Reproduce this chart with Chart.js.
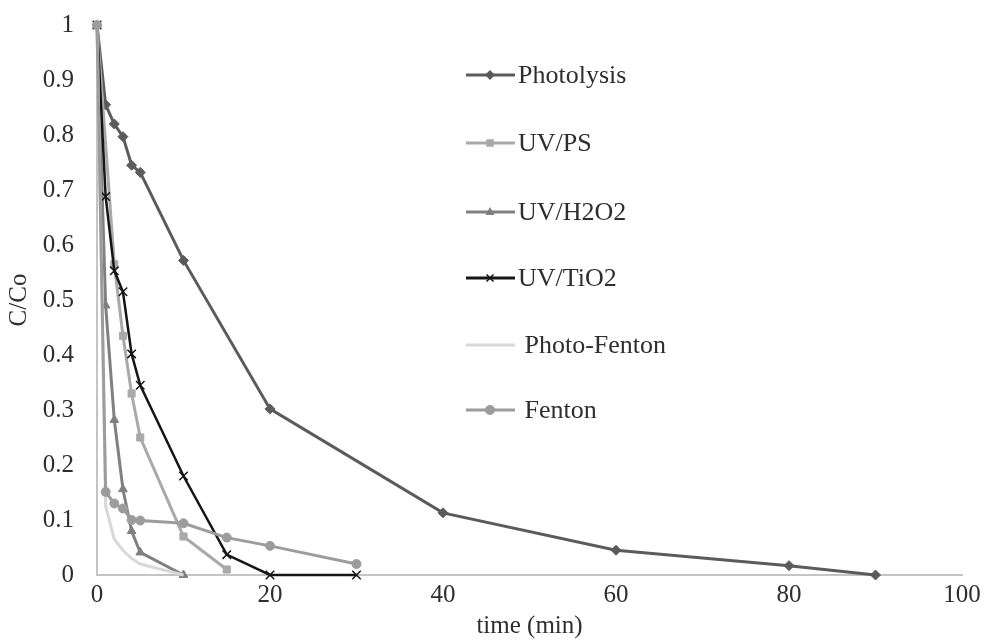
<!DOCTYPE html>
<html>
<head>
<meta charset="utf-8">
<script src="https://cdn.jsdelivr.net/npm/chart.js@4"></script>
<style>
  html, body { margin: 0; padding: 0; background: #fff; }
  #wrap { width: 986px; height: 641px; }
</style>
</head>
<body>
<div id="wrap"><canvas id="chart" width="986" height="641"></canvas></div>
<script>
// series: time (min) and C/Co
var seriesNames = ["Photolysis", "UV/PS", "UV/H2O2", "UV/TiO2", "Photo-Fenton", "Fenton"];

var photolysisTime = [0, 1, 2, 3, 4, 5, 10, 20, 40, 60, 80, 90];
var photolysisC = [1, 0.855, 0.82, 0.797, 0.745, 0.732, 0.572, 0.302, 0.113, 0.045, 0.017, 0];

var uvPsTime = [0, 2, 3, 4, 5, 10, 15];
var uvPsC = [1, 0.565, 0.435, 0.33, 0.25, 0.07, 0.01];

var uvH2o2Time = [0, 1, 2, 3, 4, 5, 10];
var uvH2o2C = [1, 0.49, 0.282, 0.156, 0.08, 0.041, 0];

var uvTio2Time = [0, 1, 2, 3, 4, 5, 10, 15, 20, 30];
var uvTio2C = [1, 0.688, 0.553, 0.515, 0.402, 0.345, 0.18, 0.037, 0, 0];

var photoFentonTime = [0, 1, 2, 3, 4, 5, 10];
var photoFentonC = [1, 0.125, 0.065, 0.045, 0.03, 0.02, 0];

var fentonTime = [0, 1, 2, 3, 4, 5, 10, 15, 20, 30];
var fentonC = [1, 0.151, 0.13, 0.121, 0.1, 0.099, 0.094, 0.068, 0.053, 0.02];

var xTickLabels = ["0", "20", "40", "60", "80", "100"];
var yTickLabels = ["0", "0.1", "0.2", "0.3", "0.4", "0.5", "0.6", "0.7", "0.8", "0.9", "1"];

var serif = "'Liberation Serif', 'Times New Roman', serif";
var textColor = "#2e2e2e";
var axisColor = "#c4c4c4";

function pairs(xs, ys){
    return xs.map(function(x, i){ return {x: x, y: ys[i]}; });
}

var styles = [
    {color: "#5b5b5b", point: "rectRot", radius: 5},
    {color: "#a9a9a9", point: "rect", radius: 5},
    {color: "#808080", point: "triangle", radius: 5},
    {color: "#151515", point: "crossRot", radius: 6},
    {color: "#d8d8d8", point: false, radius: 0},
    {color: "#9c9c9c", point: "circle", radius: 4.5}
];

var allData = [
    pairs(photolysisTime, photolysisC),
    pairs(uvPsTime, uvPsC),
    pairs(uvH2o2Time, uvH2o2C),
    pairs(uvTio2Time, uvTio2C),
    pairs(photoFentonTime, photoFentonC),
    pairs(fentonTime, fentonC)
];

var datasets = allData.map(function(d, i){
    var s = styles[i];
    return {
        label: seriesNames[i],
        data: d,
        borderColor: s.color,
        backgroundColor: s.color,
        borderWidth: i == 3 ? 2.5 : 3,
        pointStyle: s.point,
        pointRadius: s.radius,
        pointBorderWidth: i == 3 ? 1.5 : 1,
        tension: 0,
        clip: false,
        order: 6 - i
    };
});

// legend drawn inside the plot, like the original
var legendRows = [75, 143, 212, 278, 345, 410];
var legendText = ["Photolysis", "UV/PS", "UV/H2O2", "UV/TiO2", " Photo-Fenton", " Fenton"];

function drawMarker(ctx, style, x, y, r){
    ctx.beginPath();
    if (style == "rectRot"){
        ctx.moveTo(x, y - r); ctx.lineTo(x + r, y); ctx.lineTo(x, y + r); ctx.lineTo(x - r, y);
        ctx.closePath(); ctx.fill();
    } else if (style == "rect"){
        ctx.rect(x - r * 0.75, y - r * 0.75, r * 1.5, r * 1.5); ctx.fill();
    } else if (style == "triangle"){
        ctx.moveTo(x, y - r); ctx.lineTo(x + r * 0.9, y + r * 0.6); ctx.lineTo(x - r * 0.9, y + r * 0.6);
        ctx.closePath(); ctx.fill();
    } else if (style == "crossRot"){
        ctx.moveTo(x - r * 0.7, y - r * 0.7); ctx.lineTo(x + r * 0.7, y + r * 0.7);
        ctx.moveTo(x + r * 0.7, y - r * 0.7); ctx.lineTo(x - r * 0.7, y + r * 0.7);
        ctx.lineWidth = 1.5; ctx.stroke();
    } else if (style == "circle"){
        ctx.arc(x, y, r, 0, Math.PI * 2); ctx.fill();
    }
}

var insideLegend = {
    id: "insideLegend",
    afterDraw: function(chart){
        var ctx = chart.ctx;
        ctx.save();
        ctx.font = "26px " + serif;
        ctx.textBaseline = "middle";
        legendRows.forEach(function(y, i){
            var s = styles[i];
            ctx.strokeStyle = s.color;
            ctx.fillStyle = s.color;
            ctx.lineWidth = 3;
            ctx.beginPath();
            ctx.moveTo(466, y); ctx.lineTo(515, y);
            ctx.stroke();
            if (s.point) drawMarker(ctx, s.point, 490, y, 5);
            ctx.fillStyle = textColor;
            ctx.fillText(legendText[i], 518, y + 1);
        });
        ctx.restore();
    }
};

new Chart(document.getElementById("chart"), {
    type: "line",
    data: { datasets: datasets },
    options: {
        responsive: false,
        animation: false,
        layout: { autoPadding: false, padding: { top: 25, right: 24, left: 0, bottom: 0 } },
        plugins: {
            legend: { display: false },
            tooltip: { enabled: false }
        },
        scales: {
            x: {
                type: "linear",
                min: 0,
                max: 100,
                grid: { display: false, drawTicks: false },
                border: { display: true, color: axisColor, width: 2 },
                ticks: {
                    stepSize: 20,
                    padding: 5,
                    color: textColor,
                    font: { family: serif, size: 25 },
                    callback: function(v){ return xTickLabels[Math.round(v / 20)]; }
                },
                title: {
                    display: true,
                    text: "time (min)",
                    color: textColor,
                    font: { family: serif, size: 25 },
                    padding: { top: 0, bottom: 0 }
                },
                afterFit: function(scale){ scale.height = 66; scale.paddingRight = 0; scale.paddingLeft = 0; }
            },
            y: {
                min: 0,
                max: 1,
                grid: { display: false, drawTicks: false },
                border: { display: true, color: axisColor, width: 2 },
                ticks: {
                    stepSize: 0.1,
                    padding: 23,
                    color: textColor,
                    font: { family: serif, size: 25 },
                    callback: function(v){ return yTickLabels[Math.round(v * 10)]; }
                },
                title: {
                    display: true,
                    text: "C/Co",
                    color: textColor,
                    font: { family: serif, size: 25 },
                    padding: { top: 4, bottom: 4 }
                },
                afterFit: function(scale){ scale.width = 97; scale.paddingTop = 0; scale.paddingBottom = 0; }
            }
        }
    },
    plugins: [insideLegend]
});
</script>
</body>
</html>
